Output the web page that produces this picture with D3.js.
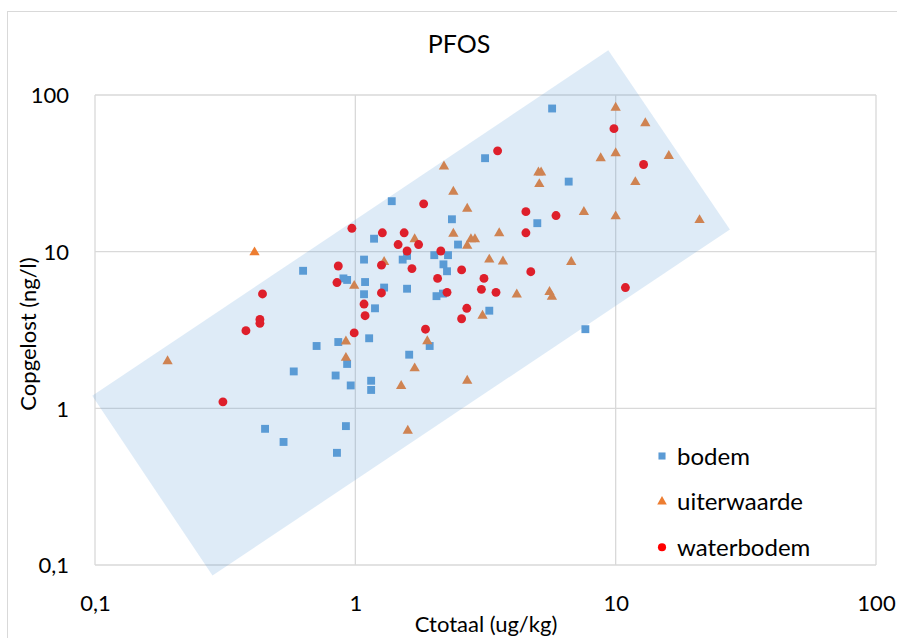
<!DOCTYPE html>
<html>
<head>
<meta charset="utf-8">
<script src="https://cdn.jsdelivr.net/npm/d3@7"></script>
<style>
  html, body { margin: 0; padding: 0; background: #fff; }
  svg { display: block; font-family: Lato, "Open Sans", sans-serif; }
</style>
</head>
<body>
<svg id="chart" width="897" height="638"></svg>
<script>
// PFOS: dissolved concentration vs. total concentration (log-log)
const tickValues = [0.1, 1, 10, 100];
const tickLabels = ["0,1", "1", "10", "100"];

const bodemX = [5.7, 3.15, 6.6, 5.0, 2.35, 2.48, 2.27, 2.01, 2.18, 2.25, 2.05, 2.17, 3.27, 1.38, 1.18,
  0.63, 1.08, 0.9, 0.93, 1.09, 1.08, 1.29, 1.19, 1.52, 1.58, 1.58, 0.71, 0.86, 1.13, 1.61, 1.93,
  0.58, 0.84, 0.93, 0.96, 1.15, 1.15, 0.45, 0.53, 0.92, 0.85, 7.65];
const bodemY = [82, 39.5, 28, 15.2, 16.1, 11.1, 9.5, 9.5, 8.3, 7.5, 5.2, 5.4, 4.2, 21, 12.1,
  7.55, 8.9, 6.75, 6.6, 6.4, 5.35, 5.9, 4.35, 8.9, 9.4, 5.8, 2.5, 2.65, 2.8, 2.2, 2.5,
  1.72, 1.62, 1.92, 1.4, 1.5, 1.31, 0.74, 0.61, 0.77, 0.52, 3.2];

const uiterX = [10, 13, 10, 8.76, 16, 2.19, 5.05, 5.17, 5.09, 11.9, 2.38, 2.69, 7.55, 10, 21,
  2.38, 3.57, 2.78, 2.88, 2.69, 3.27, 3.69, 6.75, 4.17, 5.57, 5.69, 3.08, 2.69, 0.41, 1.69,
  1.29, 0.99, 0.19, 0.92, 0.92, 1.89, 1.69, 1.5, 1.59];
const uiterY = [83, 66, 42.5, 39.5, 40.8, 35, 32, 32, 27, 27.8, 24.1, 18.8, 17.9, 16.8, 15.9,
  13, 13.1, 12, 12, 10.9, 8.9, 8.65, 8.6, 5.33, 5.53, 5.15, 3.9, 1.5, 9.9, 12,
  8.6, 6.05, 2.0, 2.67, 2.1, 2.68, 1.8, 1.39, 0.72];

const waterX = [9.85, 3.52, 12.8, 4.52, 5.9, 4.52, 2.13, 2.56, 4.72, 3.12, 3.05, 3.47, 2.25, 10.9,
  2.68, 2.56, 1.83, 0.97, 1.27, 1.54, 1.46, 1.75, 1.58, 0.86, 1.26, 1.65, 2.07, 0.85, 1.26,
  1.08, 1.09, 0.44, 0.43, 0.43, 0.38, 0.99, 1.86, 0.31];
const waterY = [61, 44, 36, 18, 17, 13.2, 10.1, 7.65, 7.45, 6.75, 5.75, 5.5, 5.5, 5.9,
  4.35, 3.73, 20.2, 14.1, 13.2, 13.2, 11.1, 11.1, 10.1, 8.1, 8.2, 7.8, 6.75, 6.35, 5.45,
  4.63, 3.9, 5.37, 3.69, 3.49, 3.13, 3.03, 3.2, 1.1];

// corners of the shaded band (x, y in data units)
const bandX = [9.37, 27.47, 0.2827, 0.0976];
const bandY = [192.7, 13.87, 0.0856, 1.201];

const seriesNames = ["bodem", "uiterwaarde", "waterbodem"];
const seriesColors = ["#5B9BD5", "#ED7D31", "#FF0000"];

const svg = d3.select("#chart");

// chart frame
svg.append("rect")
  .attr("x", 7.5).attr("y", 11.5)
  .attr("width", 910).attr("height", 660)
  .attr("fill", "#fff").attr("stroke", "#d9d9d9").attr("stroke-width", 1);

const x = d3.scaleLog().domain([0.1, 100]).range([95, 876]);
const y = d3.scaleLog().domain([0.1, 100]).range([565, 95]);

// gridlines
const grid = svg.append("g").attr("stroke", "#d9d9d9").attr("stroke-width", 1.3);
tickValues.forEach(v => {
  grid.append("line")
    .attr("x1", x(v)).attr("x2", x(v))
    .attr("y1", y(100)).attr("y2", y(0.1));
  grid.append("line")
    .attr("x1", x(0.1)).attr("x2", x(100))
    .attr("y1", y(v)).attr("y2", y(v));
});

// axes (labels only)
const fmt = d => tickLabels[tickValues.indexOf(d)];
const xAxis = svg.append("g")
  .attr("transform", `translate(0,${y(0.1)})`)
  .call(d3.axisBottom(x).tickValues(tickValues).tickFormat(fmt).tickSize(0).tickPadding(30));
const yAxis = svg.append("g")
  .attr("transform", `translate(${x(0.1)},0)`)
  .call(d3.axisLeft(y).tickValues(tickValues).tickFormat(fmt).tickSize(0).tickPadding(26));
[xAxis, yAxis].forEach(a => {
  a.select(".domain").remove();
  a.selectAll("text")
    .attr("fill", "#000")
    .style("font-family", "Lato, sans-serif")
    .style("font-size", "22px");
});
yAxis.selectAll("text").attr("dy", "0.36em");

// markers
const shapes = [d3.symbolSquare, d3.symbolTriangle, d3.symbolCircle];
const sizes = [62, 46, 62];
const xs = [bodemX, uiterX, waterX];
const ys = [bodemY, uiterY, waterY];

const marks = svg.append("g");
seriesNames.forEach((name, i) => {
  const data = xs[i].map((v, k) => ({ x: v, y: ys[i][k] }));
  marks.append("g")
    .selectAll("path")
    .data(data)
    .join("path")
    .attr("transform", d => `translate(${x(d.x)},${y(d.y)})`)
    .attr("d", d3.symbol(shapes[i], sizes[i]))
    .attr("fill", seriesColors[i]);
});

// translucent band on top of the markers
const band = bandX.map((v, k) => [x(v), y(bandY[k])]);
svg.append("path")
  .attr("d", d3.line()(band) + "Z")
  .attr("fill", "#5B9BD5")
  .attr("fill-opacity", 0.2);

// title
svg.append("text")
  .attr("x", 459).attr("y", 53)
  .attr("text-anchor", "middle")
  .style("font-size", "25px")
  .text("PFOS");

// axis titles
svg.append("text")
  .attr("transform", `translate(36,334) rotate(-90)`)
  .attr("text-anchor", "middle")
  .style("font-size", "22px")
  .text("Copgelost (ng/l)");
svg.append("text")
  .attr("x", 486).attr("y", 632)
  .attr("text-anchor", "middle")
  .style("font-size", "22px")
  .text("Ctotaal (ug/kg)");

// legend
const legendSizes = [50, 40, 52];
const legend = svg.append("g");
seriesNames.forEach((name, i) => {
  const cy = 456 + i * 45.6;
  legend.append("path")
    .attr("transform", `translate(662,${cy})`)
    .attr("d", d3.symbol(shapes[i], legendSizes[i]))
    .attr("fill", seriesColors[i]);
  legend.append("text")
    .attr("x", 677).attr("y", cy)
    .attr("dy", "0.36em")
    .style("font-size", "24px")
    .text(name);
});
</script>
</body>
</html>
